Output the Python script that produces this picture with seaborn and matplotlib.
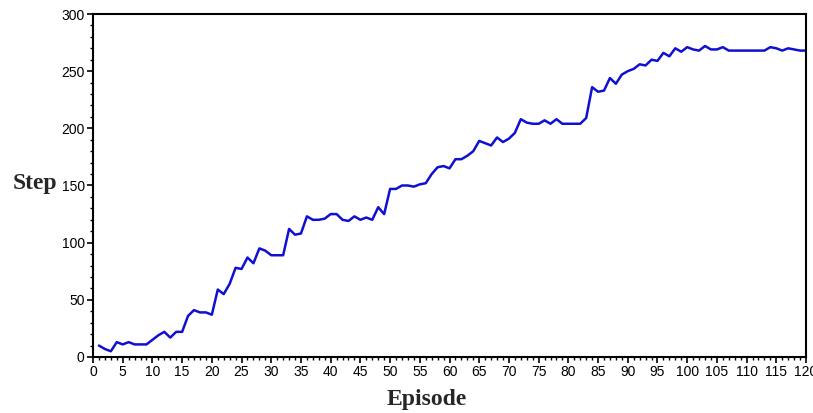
import numpy as np
import pandas as pd
import seaborn as sns
import matplotlib.pyplot as plt
from matplotlib.ticker import MultipleLocator

# steps per episode
episodes = list(range(1, 121))
steps = [10, 7, 5, 13, 11, 13, 11, 11, 11, 15,
         19, 22, 17, 22, 22, 36, 41, 39, 39, 37,
         59, 55, 64, 78, 77, 87, 82, 95, 93, 89,
         89, 89, 112, 107, 108, 123, 120, 120, 121, 125,
         125, 120, 119, 123, 120, 122, 120, 131, 125, 147,
         147, 150, 150, 149, 151, 152, 160, 166, 167, 165,
         173, 173, 176, 180, 189, 187, 185, 192, 188, 191,
         196, 208, 205, 204, 204, 207, 204, 208, 204, 204,
         204, 204, 209, 236, 232, 233, 244, 239, 247, 250,
         252, 256, 255, 260, 259, 266, 263, 270, 267, 271,
         269, 268, 272, 269, 269, 271, 268, 268, 268, 268,
         268, 268, 268, 271, 270, 268, 270, 269, 268, 268]

df = pd.DataFrame({"Episode": episodes, "Step": steps})

sns.set_style("ticks")
plt.rcParams['font.family'] = ['Liberation Sans', 'DejaVu Sans']

fig = plt.figure(figsize=(8.13, 4.13), dpi=100)
ax = fig.add_axes([0.1144, 0.1356, 0.877, 0.8305])

sns.lineplot(data=df, x="Episode", y="Step", ax=ax, color="#1010d0", linewidth=1.8)

ax.set_xlim(0, 120)
ax.set_ylim(0, 300)
ax.xaxis.set_major_locator(MultipleLocator(5))
ax.xaxis.set_minor_locator(MultipleLocator(1))
ax.yaxis.set_major_locator(MultipleLocator(50))
ax.yaxis.set_minor_locator(MultipleLocator(10))

for s in ax.spines.values():
    s.set_color("black")
    s.set_linewidth(1.5)
ax.tick_params(which="major", direction="out", length=4, width=1.2, labelsize=10, colors="black", pad=2)
ax.tick_params(which="minor", direction="out", length=2, width=1, colors="black")

serif = ["Liberation Serif", "DejaVu Serif"]
ax.set_xlabel("Episode", family=serif, fontsize=17, fontweight="bold", va="center")
ax.set_ylabel("Step", family=serif, fontsize=17, fontweight="bold", rotation=0, va="center", ha="center")
ax.xaxis.set_label_coords(0.468, -0.125)
ax.yaxis.set_label_coords(-0.081, 0.507)

fig.savefig("out.png", dpi=100)
